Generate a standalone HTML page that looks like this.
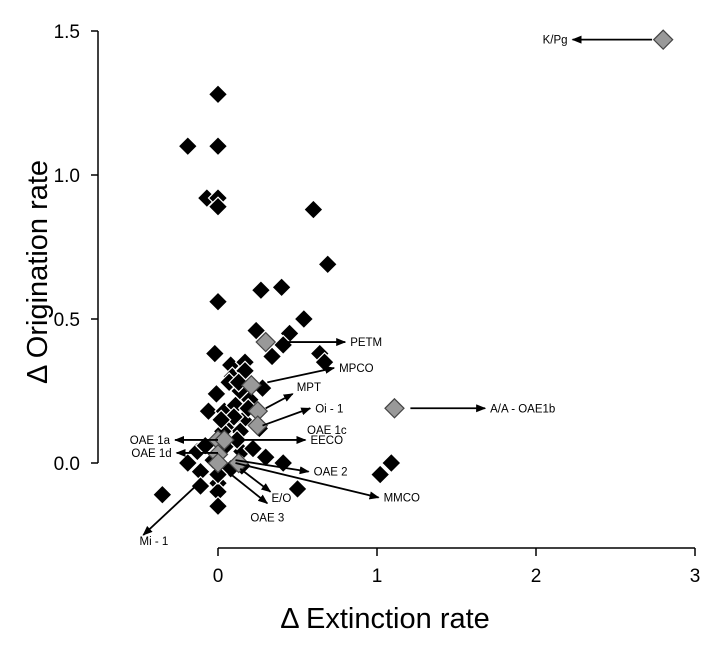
<!DOCTYPE html>
<html><head><meta charset="utf-8"><style>
body{margin:0;background:#fff}
svg{display:block;font-family:"Liberation Sans",Arial,sans-serif}
</style></head><body>
<svg id="chart" width="719" height="648" viewBox="0 0 719 648"></svg>
<script>
const blackX=[0,-0.19,0,-0.07,0,0,0.60,0.69,0.27,0.40,0,0.54,0.24,0.45,0.41,0.34,0.64,0.67,-0.02,0.08,0.17,0.09,0.17,0.14,0.28,0.20,-0.06,0.04,0.16,0.06,0.14,0.26,0.03,-0.13,0.15,0.30,0.41,-0.19,-0.11,-0.11,0.00,0,0,0.50,-0.35,1.09,1.02,-0.01,0.11,0.07,0.13,0.19,0.10,0.02,0.05,0.12,0.22,-0.03,0.08,0.15,0.00,-0.08];
const blackY=[1.28,1.10,1.10,0.92,0.92,0.89,0.88,0.69,0.60,0.61,0.56,0.50,0.46,0.45,0.41,0.37,0.38,0.35,0.38,0.34,0.35,0.30,0.32,0.25,0.26,0.22,0.18,0.18,0.15,0.12,0.11,0.12,0.11,0.04,0.04,0.02,0.00,0.00,-0.03,-0.08,-0.07,-0.10,-0.15,-0.09,-0.11,0.00,-0.04,0.24,0.20,0.28,0.28,0.19,0.16,0.15,0.06,0.08,0.05,0.01,-0.02,-0.01,-0.04,0.06];
const grayX=[0.30,0.21,0.25,0.25,0,0.04,0,0,0.13,1.11,2.80];
const grayY=[0.42,0.27,0.18,0.13,0.08,0.08,0.03,0.0,0.0,0.19,1.47];
const arrowLabels=["PETM","MPCO","MPT","Oi - 1","EECO","OAE 1a","OAE 1d","OAE 2","MMCO","E/O","OAE 3","Mi - 1","K/Pg","A/A - OAE1b"];
const arrowX0=[0.43,0.31,0.30,0.28,0.17,0,0,0.11,0.11,0.14,0.06,-0.14,2.73,1.21];
const arrowY0=[0.42,0.28,0.19,0.13,0.08,0.08,0.035,0.01,0.0,-0.02,-0.03,-0.08,1.47,0.19];
const arrowX1=[0.80,0.73,0.47,0.58,0.55,-0.27,-0.26,0.57,1.01,0.33,0.31,-0.47,2.23,1.68];
const arrowY1=[0.42,0.33,0.24,0.19,0.08,0.08,0.035,-0.03,-0.12,-0.1,-0.14,-0.25,1.47,0.19];
const xTicks=[0,1,2,3];
const yTicks=[0.0,0.5,1.0,1.5];
const yTickLabels=["0.0","0.5","1.0","1.5"];

const X=v=>218+159*v, Y=v=>463-288*v;
const svg=document.getElementById('chart');
const NS='http://www.w3.org/2000/svg';
function mk(t,a,p){const e=document.createElementNS(NS,t);for(const k in a)e.setAttribute(k,a[k]);(p||svg).appendChild(e);return e;}

const defs=mk('defs',{});
const m=mk('marker',{id:'ah',markerWidth:10,markerHeight:8,refX:9,refY:4,orient:'auto',markerUnits:'userSpaceOnUse'},defs);
mk('path',{d:'M0,0 L10,4 L0,8 z',fill:'#000'},m);

const ya=mk('line',{x1:98,y1:Y(1.5),x2:98,y2:Y(0),stroke:'#000','stroke-width':1.5});


yTicks.forEach((t,i)=>{
  const l=mk('line',{x1:91,y1:Y(t),x2:98,y2:Y(t),stroke:'#000','stroke-width':1.5});
  
  
  const tx=mk('text',{x:80,y:Y(t)+7,'font-size':19,'text-anchor':'end'});
  tx.textContent=yTickLabels[i];
  
  
});
const xa=mk('line',{x1:X(0),y1:548,x2:X(3),y2:548,stroke:'#000','stroke-width':1.5});


xTicks.forEach(t=>{
  const l=mk('line',{x1:X(t),y1:548,x2:X(t),y2:556,stroke:'#000','stroke-width':1.5});
  
  
  const tx=mk('text',{x:X(t),y:582,'font-size':19,'text-anchor':'middle'});
  tx.textContent=String(t);
  
  
});
const yt=mk('text',{x:0,y:0,'font-size':29,'text-anchor':'middle',transform:'translate(47,272) rotate(-90)'});
yt.textContent='Δ Origination rate';


const xt=mk('text',{x:385,y:628,'font-size':29,'text-anchor':'middle'});
xt.textContent='Δ Extinction rate';



function diamond(x,y,fill,name){
  const cx=X(x),cy=Y(y),r=9.5;
  const p=mk('polygon',{points:`${cx},${cy-r} ${cx+r},${cy} ${cx},${cy+r} ${cx-r},${cy}`,fill:fill,stroke:fill==='#000'?'#fff':'#444','stroke-width':1.2});
  
  
}
blackX.forEach((x,i)=>diamond(x,blackY[i],'#000','data-point'));
grayX.forEach((x,i)=>diamond(x,grayY[i],'#999','event-point'));

const anchors=['start','start','start','start','start','end','end','start','start','start','middle','end','end','start'];
arrowLabels.forEach((lab,i)=>{
  const x0=X(arrowX0[i]),y0=Y(arrowY0[i]),x1=X(arrowX1[i]),y1=Y(arrowY1[i]);
  const a=mk('line',{x1:x0,y1:y0,x2:x1,y2:y1,stroke:'#000','stroke-width':1.8,'marker-end':'url(#ah)'});
  
  
  let lx=x1+(anchors[i]==='end'?-5:5), ly=y1+4;
  if(lab==='MPT'){lx=x1+4;ly=y1-3;}
  if(lab==='E/O'){lx=x1+1;ly=y1+10;}
  if(lab==='OAE 3'){lx=x1;ly=y1+18;}
  if(lab==='Mi - 1'){lx=x1+25;ly=y1+10;}
  const t=mk('text',{x:lx,y:ly,'font-size':11.5,'text-anchor':anchors[i]});
  t.textContent=lab;
  
  
});
const t1c=mk('text',{x:307,y:434,'font-size':11.5});
t1c.textContent='OAE 1c';


</script>
</body></html>
